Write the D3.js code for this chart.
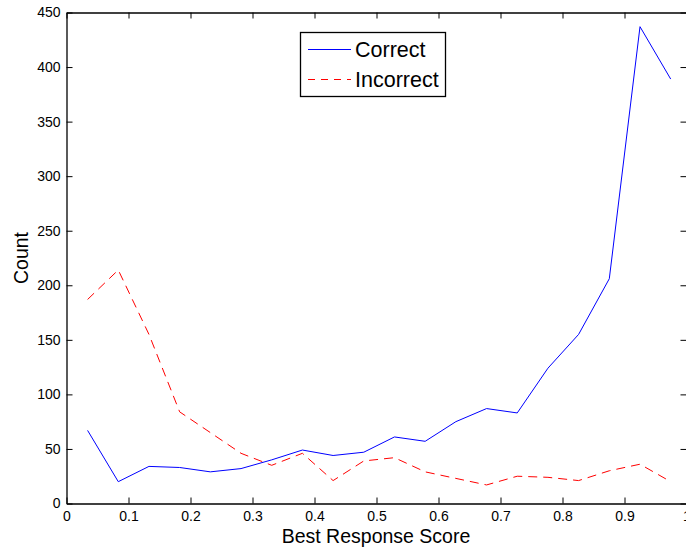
<!DOCTYPE html>
<html>
<head>
<meta charset="utf-8">
<script src="https://cdn.jsdelivr.net/npm/d3@7"></script>
<style>
body { margin: 0; background: #fff; }
text { font-family: "Liberation Sans", Arial, sans-serif; fill: #000; }
</style>
</head>
<body>
<script>
// bin centres of the score histogram
var binCenters = [0.034, 0.0835, 0.133, 0.1825, 0.232, 0.2815, 0.331, 0.3805, 0.43, 0.4795,
    0.529, 0.5785, 0.628, 0.6775, 0.727, 0.7765, 0.826, 0.8755, 0.925, 0.9745];

// counts per bin
var correctCounts = [67, 20, 34, 33, 29, 32, 40, 49, 44, 47, 61, 57, 75, 87, 83, 124, 155, 206, 437, 389];
var incorrectCounts = [187, 214, 155, 84, 65, 46, 35, 46, 21, 39, 42, 29, 23, 17, 25, 24, 21, 30, 36, 20];

var xTicks = [0, 0.1, 0.2, 0.3, 0.4, 0.5, 0.6, 0.7, 0.8, 0.9, 1];
var yTicks = [0, 50, 100, 150, 200, 250, 300, 350, 400, 450];

var seriesNames = ["Correct", "Incorrect"];

window.onload = drawChart();

function drawChart() {
    var width = 686,
        height = 549;

    var left = 66.5, right = 686.5, top = 12.5, bottom = 503.5;

    var svg = d3.select("body")
        .append("svg")
        .attr("width", width)
        .attr("height", height);

    var x = d3.scaleLinear().domain([0, 1]).range([left, right]);
    var y = d3.scaleLinear().domain([0, 450]).range([bottom, top]);

    //axes with inward ticks on all four sides
    var fmt = function(d){ return d === 0 ? "0" : d === 1 ? "1" : d3.format(".1f")(d); };

    svg.append("g")
        .attr("transform", "translate(0," + bottom + ")")
        .call(d3.axisBottom(x).tickValues(xTicks).tickFormat(fmt).tickSizeInner(-6).tickSizeOuter(0).tickPadding(8))
        .call(styleAxis);

    svg.append("g")
        .attr("transform", "translate(0," + top + ")")
        .call(d3.axisTop(x).tickValues(xTicks).tickFormat("").tickSizeInner(-6).tickSizeOuter(0))
        .call(styleAxis);

    svg.append("g")
        .attr("transform", "translate(" + left + ",0)")
        .call(d3.axisLeft(y).tickValues(yTicks).tickSizeInner(-6).tickSizeOuter(0).tickPadding(6))
        .call(styleAxis);

    svg.append("g")
        .attr("transform", "translate(" + right + ",0)")
        .call(d3.axisRight(y).tickValues(yTicks).tickFormat("").tickSizeInner(-6).tickSizeOuter(0))
        .call(styleAxis);

    function styleAxis(g) {
        g.select(".domain").attr("stroke", "#000").attr("stroke-width", 1.3);
        g.selectAll(".tick line").attr("stroke", "#000").attr("stroke-width", 1);
        g.selectAll(".tick text").attr("font-size", 14).attr("fill", "#000")
            .style("font-family", "'Liberation Sans', Arial, sans-serif");
    }

    //data lines
    var line = d3.line()
        .x(function(d){ return x(d[0]); })
        .y(function(d){ return y(d[1]); });

    svg.append("path")
        .datum(d3.zip(binCenters, correctCounts))
        .attr("fill", "none")
        .attr("stroke", "#0000ff")
        .attr("stroke-width", 1)
        .attr("d", line);

    svg.append("path")
        .datum(d3.zip(binCenters, incorrectCounts))
        .attr("fill", "none")
        .attr("stroke", "#ff0000")
        .attr("stroke-width", 1)
        .attr("stroke-dasharray", "9,6")
        .attr("d", line);

    //axis labels
    svg.append("text")
        .attr("x", 376)
        .attr("y", 543)
        .attr("text-anchor", "middle")
        .attr("font-size", 19.5)
        .text("Best Response Score");

    svg.append("text")
        .attr("transform", "translate(28,258) rotate(-90)")
        .attr("text-anchor", "middle")
        .attr("font-size", 19.5)
        .text("Count");

    //legend
    var legend = svg.append("g");
    legend.append("rect")
        .attr("x", 300.5).attr("y", 32.5)
        .attr("width", 145).attr("height", 64)
        .attr("fill", "#fff")
        .attr("stroke", "#000")
        .attr("stroke-width", 1.3);

    var styles = [{ color: "#0000ff", dash: null }, { color: "#ff0000", dash: "7,6" }];
    seriesNames.forEach(function(name, i) {
        var ly = 49.5 + i * 30;
        legend.append("line")
            .attr("x1", 308).attr("x2", 351)
            .attr("y1", ly).attr("y2", ly)
            .attr("stroke", styles[i].color)
            .attr("stroke-width", 1)
            .attr("stroke-dasharray", styles[i].dash);
        legend.append("text")
            .attr("x", 355)
            .attr("y", ly + 7.5)
            .attr("font-size", 21.5)
            .text(name);
    });
}
</script>
</body>
</html>
